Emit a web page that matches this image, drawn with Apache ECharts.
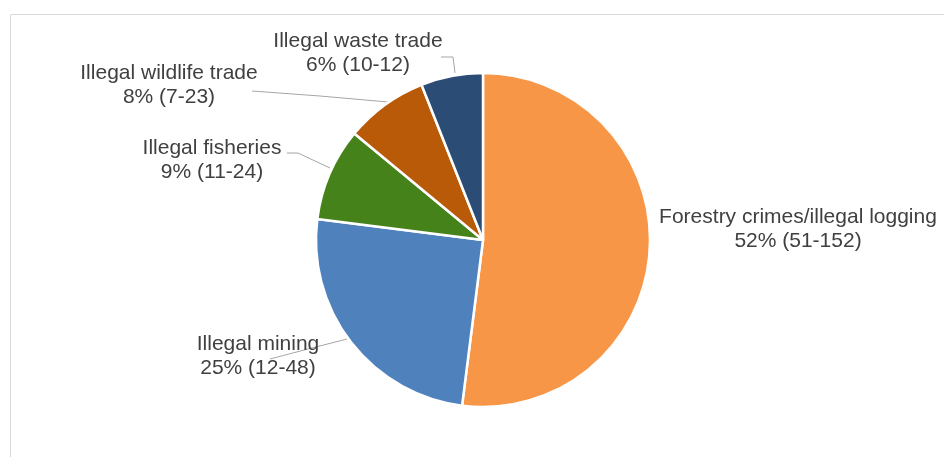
<!DOCTYPE html>
<html>
    <head>
        <meta charset="utf-8">
        <script src="https://cdn.jsdelivr.net/npm/echarts@6/dist/echarts.min.js"></script>
        <style>
            html, body {
                margin: 0;
                padding: 0;
                background: #fff;
            }
            #main {
                width: 944px;
                height: 457px;
            }
        </style>
    </head>
    <body>
        <div id="main"></div>

        <script>
            var categories = [
                'Forestry crimes/illegal logging',
                'Illegal mining',
                'Illegal fisheries',
                'Illegal wildlife trade',
                'Illegal waste trade'
            ];
            var shares = [52, 25, 9, 8, 6];
            var ranges = ['51-152', '12-48', '11-24', '7-23', '10-12'];
            var colors = ['#F79646', '#4F81BD', '#46821A', '#B85A08', '#2B4C74'];

            // where each label sits (text centre) and its leader line
            var labelSpots = [
                {x: 798, y: 229, line: null},
                {x: 258, y: 356, line: [[347, 339], [308, 349], [270, 359]]},
                {x: 212, y: 160, line: [[287, 153], [298, 153], [330, 168]]},
                {x: 169, y: 85, line: [[252, 91], [320, 96], [388, 102]]},
                {x: 358, y: 53, line: [[441, 57], [453, 57], [455, 73]]}
            ];

            var chart = echarts.init(document.getElementById('main'));

            var data = [];
            for (var i = 0; i < categories.length; i++) {
                data.push({
                    name: categories[i],
                    value: shares[i],
                    itemStyle: {color: colors[i]},
                    labelLine: {show: labelSpots[i].line !== null}
                });
            }

            chart.setOption({
                animation: false,
                graphic: [{
                    type: 'rect',
                    shape: {x: 10.5, y: 14.5, width: 1200, height: 1000},
                    style: {fill: 'none', stroke: '#D9D9D9', lineWidth: 1},
                    z: -1
                }],
                series: [{
                    type: 'pie',
                    center: [483, 240],
                    radius: 167,
                    startAngle: 90,
                    clockwise: true,
                    itemStyle: {
                        borderColor: '#fff',
                        borderWidth: 2.5
                    },
                    label: {
                        show: true,
                        color: '#404040',
                        fontFamily: 'Liberation Sans, Arial, sans-serif',
                        fontSize: 21,
                        lineHeight: 24,
                        align: 'center',
                        overflow: 'none',
                        formatter: function (p) {
                            return p.name + '\n' + p.value + '% (' + ranges[p.dataIndex] + ')';
                        }
                    },
                    labelLine: {
                        lineStyle: {color: '#A6A6A6', width: 1}
                    },
                    labelLayout: function (params) {
                        var s = labelSpots[params.dataIndex];
                        var out = {
                            x: s.x,
                            y: s.y,
                            align: 'center',
                            verticalAlign: 'middle'
                        };
                        if (s.line) {
                            out.labelLinePoints = s.line;
                        }
                        return out;
                    },
                    data: data
                }]
            });
        </script>
    </body>
</html>
